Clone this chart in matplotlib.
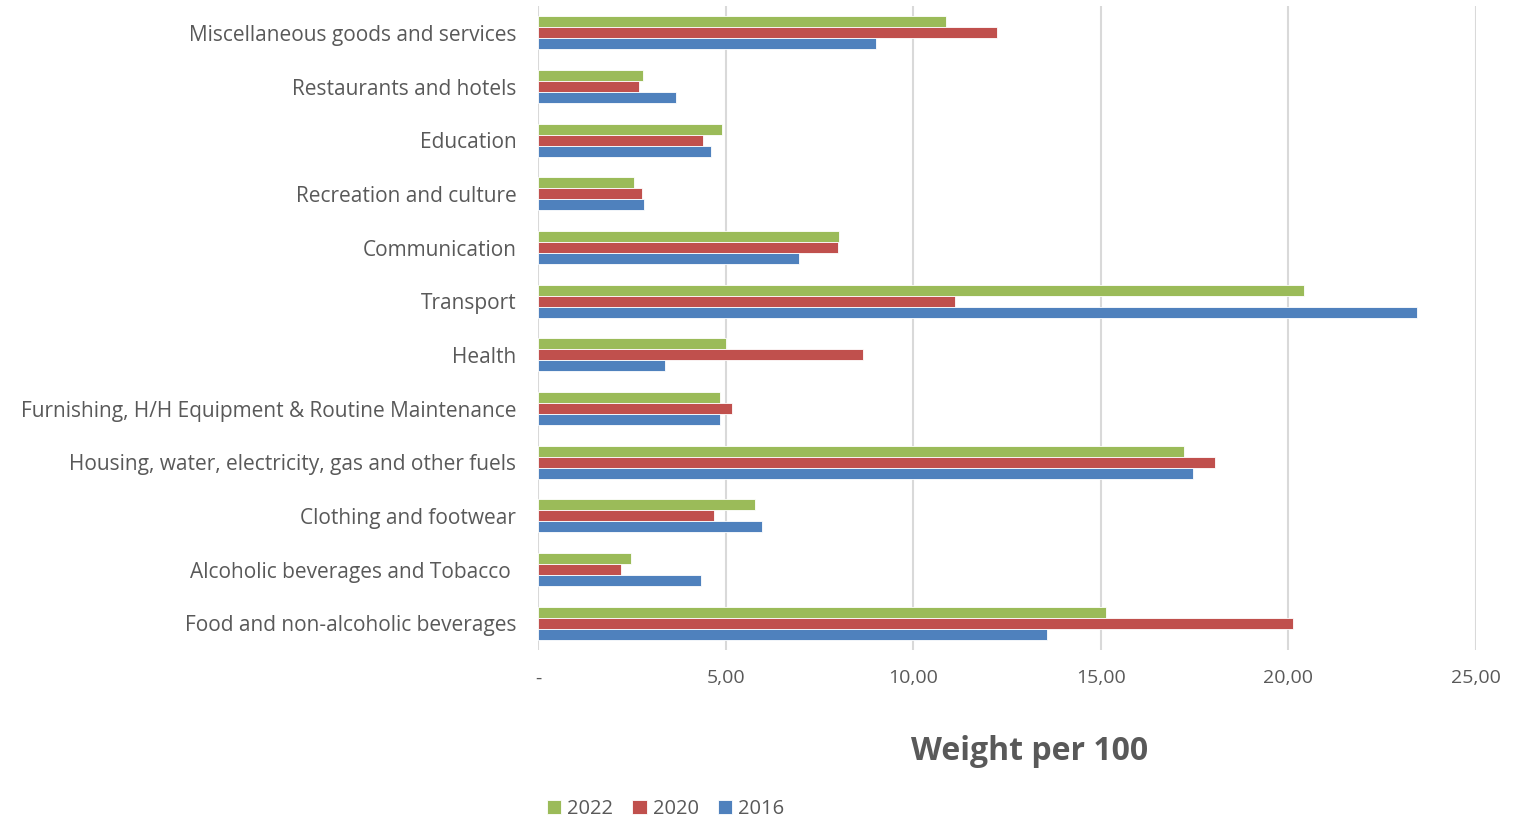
import numpy as np
import matplotlib.pyplot as plt

# CPI basket weights per 100, listed bottom to top
categories = [
    "Food and non-alcoholic beverages",
    "Alcoholic beverages and Tobacco ",
    "Clothing and footwear",
    "Housing, water, electricity, gas and other fuels",
    "Furnishing, H/H Equipment & Routine Maintenance",
    "Health",
    "Transport",
    "Communication",
    "Recreation and culture",
    "Education",
    "Restaurants and hotels",
    "Miscellaneous goods and services",
]
w2022 = [15.14, 2.48, 5.77, 17.21, 4.83, 5.00, 20.41, 8.01, 2.54, 4.90, 2.80, 10.86]
w2020 = [20.13, 2.19, 4.68, 18.04, 5.16, 8.66, 11.10, 8.00, 2.75, 4.38, 2.67, 12.24]
w2016 = [13.55, 4.33, 5.95, 17.46, 4.85, 3.38, 23.44, 6.94, 2.81, 4.59, 3.66, 9.01]
years = ["2022", "2020", "2016"]
xticks = [0, 5, 10, 15, 20, 25]
xtick_labels = ["-", "5,00", "10,00", "15,00", "20,00", "25,00"]

GREEN = "#9BBB59"
RED = "#C0504D"
BLUE = "#4F81BD"
GREY = "#595959"

plt.rcParams['font.family'] = ['Open Sans', 'DejaVu Sans']

fig = plt.figure(figsize=(15.16, 8.19), dpi=100)
ax = fig.add_axes([0.3552, 0.2063, 0.6184, 0.7863])

y = np.arange(len(categories))
h = 0.205
series = [(w2022, GREEN, h), (w2020, RED, 0.0), (w2016, BLUE, -h)]
handles = []
for (vals, col, off), lab in zip(series, years):
    b = ax.barh(y + off, vals, height=h, color=col, edgecolor="white",
                linewidth=0.6, label=lab, zorder=3)
    handles.append(b)

ax.set_xlim(0, 25)
ax.set_ylim(-0.5, len(categories) - 0.5)
ax.set_xticks(xticks)
ax.set_xticklabels(xtick_labels, fontsize=14, color=GREY)
ax.set_yticks(y)
ax.set_yticklabels(categories, fontsize=15, color=GREY)
ax.tick_params(axis="both", length=0)
ax.tick_params(axis="x", pad=14)
ax.tick_params(axis="y", pad=16)
ax.grid(axis="x", color="#d9d9d9", linewidth=1.5, zorder=0)
for s in ax.spines.values():
    s.set_visible(False)

fig.text(0.679, 0.083, "Weight per 100", fontsize=23, fontweight="bold",
         color=GREY, ha="center", va="center")

fig.legend(handles=handles, labels=years, loc="lower left",
           bbox_to_anchor=(0.349, -0.022), ncol=3, frameon=False,
           fontsize=14.5, handlelength=0.7, handleheight=0.7,
           handletextpad=0.3, columnspacing=0.95, labelcolor=GREY)

fig.savefig("out.png", dpi=100)
